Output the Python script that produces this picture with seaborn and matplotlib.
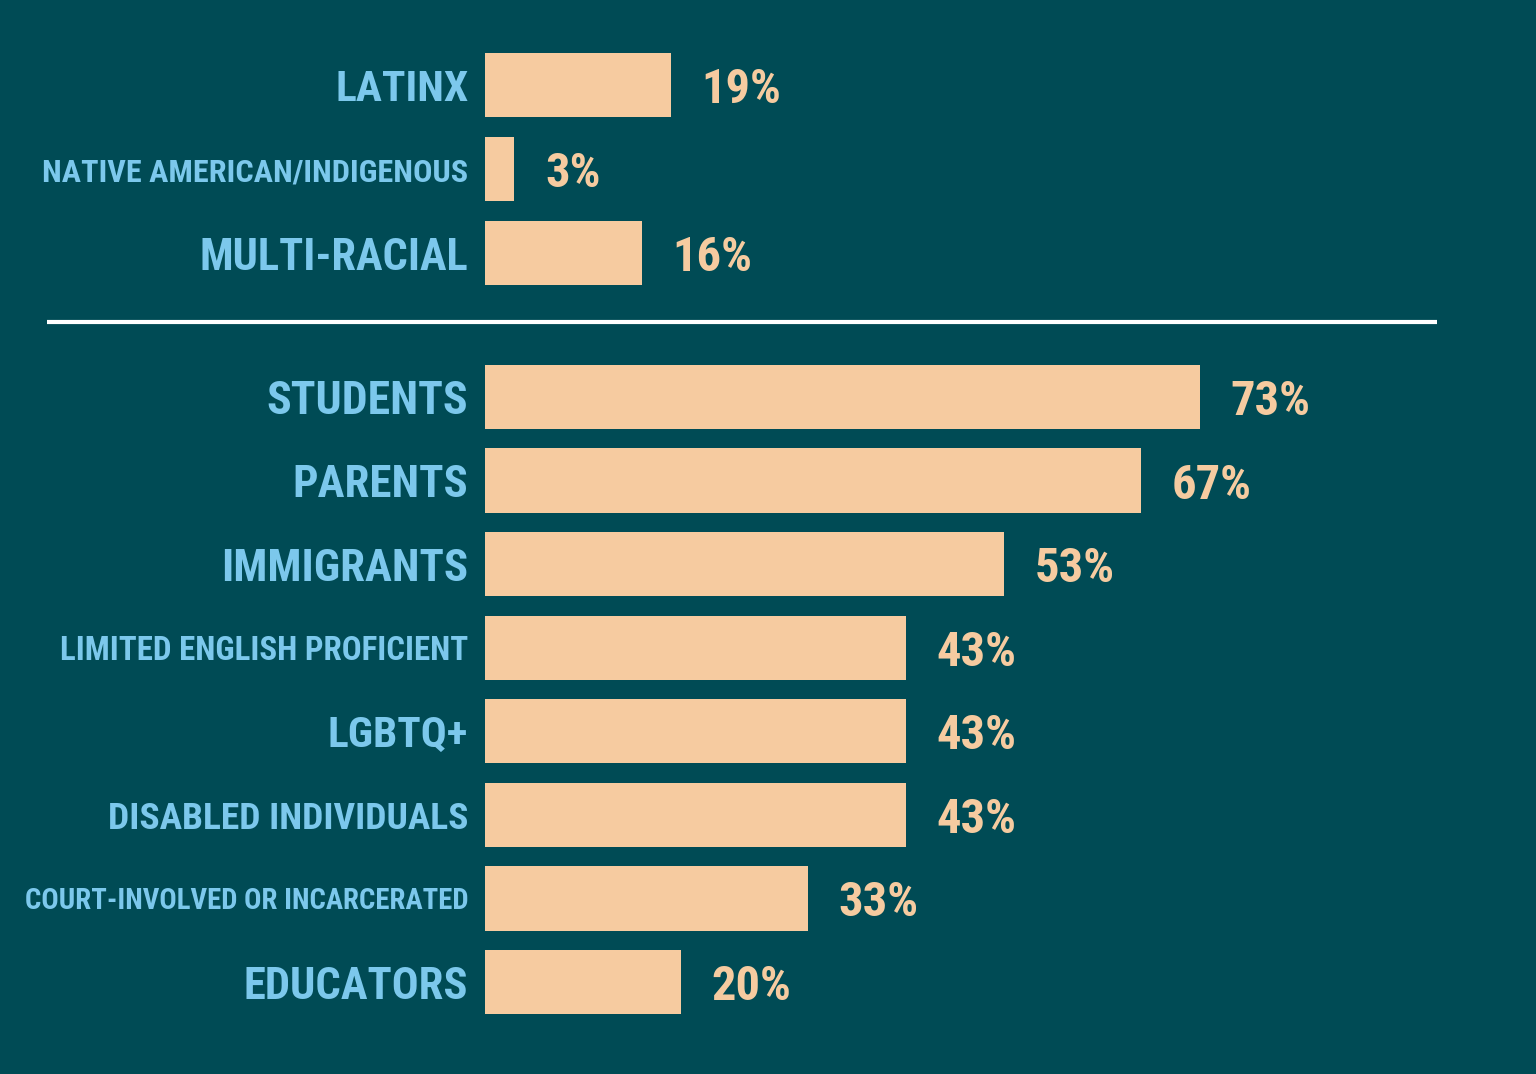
import matplotlib
matplotlib.use("Agg")
import matplotlib.pyplot as plt
from matplotlib.lines import Line2D
import seaborn as sns
import pandas as pd

# ---- data ----
race_categories = ["LATINX", "NATIVE AMERICAN/INDIGENOUS", "MULTI-RACIAL"]
race_values = [19, 3, 16]

group_categories = ["STUDENTS", "PARENTS", "IMMIGRANTS", "LIMITED ENGLISH PROFICIENT",
                    "LGBTQ+", "DISABLED INDIVIDUALS", "COURT-INVOLVED OR INCARCERATED",
                    "EDUCATORS"]
group_values = [73, 67, 53, 43, 43, 43, 33, 20]

# ---- style ----
BG = "#004B55"
BAR = "#F6CBA0"
LABEL = "#7CC8EC"
VALUE = "#F6CBA0"

sns.set_theme(style="white")
plt.rcParams["font.family"] = ["Roboto Condensed", "Liberation Sans Narrow", "DejaVu Sans"]
plt.rcParams["font.weight"] = "bold"
plt.rcParams["font.stretch"] = "condensed"

# target label widths in pixels (layout)
label_widths = {
    "LATINX": 133, "NATIVE AMERICAN/INDIGENOUS": 425, "MULTI-RACIAL": 268,
    "STUDENTS": 201, "PARENTS": 175, "IMMIGRANTS": 246,
    "LIMITED ENGLISH PROFICIENT": 406, "LGBTQ+": 140,
    "DISABLED INDIVIDUALS": 360, "COURT-INVOLVED OR INCARCERATED": 443,
    "EDUCATORS": 224,
}
VALUE_WIDTH = 80  # px width of a two-digit value label

W, H = 1536, 1074
fig = plt.figure(figsize=(W / 100, H / 100), dpi=100, facecolor=BG)

x_left = 485 / W
x_width = 979 / W
XMAX = 100

def make_axes(top_px, bottom_px):
    return fig.add_axes([x_left, 1 - bottom_px / H, x_width, (bottom_px - top_px) / H])

ax_top = make_axes(43, 295)
ax_bot = make_axes(355.2, 1023.8)

value_texts = []
for ax, cats, vals in [(ax_top, race_categories, race_values),
                       (ax_bot, group_categories, group_values)]:
    df = pd.DataFrame({"category": cats, "value": vals})
    sns.barplot(data=df, x="value", y="category", ax=ax, color=BAR,
                orient="h", width=0.77, saturation=1, edgecolor="none")
    ax.set_facecolor(BG)
    ax.set_xlim(0, XMAX)
    ax.set_xlabel("")
    ax.set_ylabel("")
    ax.set_xticks([])
    for s in ax.spines.values():
        s.set_visible(False)
    ax.tick_params(axis="y", length=0, pad=12)
    for t in ax.get_yticklabels():
        t.set_color(LABEL)
        t.set_fontweight("bold")
        t.set_fontstretch("condensed")
        t.set_fontsize(30)
        t.set_va("center_baseline")
    texts = ax.bar_label(ax.containers[0], labels=[f"{v}%" for v in vals],
                         padding=22, color=VALUE, fontsize=30,
                         fontweight="bold", fontstretch="condensed")
    for t in texts:
        t.set_va("center_baseline")
    value_texts += texts

# fit text sizes to the widths seen in the reference
fig.canvas.draw()
renderer = fig.canvas.get_renderer()
for ax in (ax_top, ax_bot):
    for t in ax.get_yticklabels():
        w = t.get_window_extent(renderer).width
        target = label_widths.get(t.get_text(), w)
        t.set_fontsize(30 * target / w)
ref = [t for t in value_texts if t.get_text() == "73%"][0]
vsize = 30 * VALUE_WIDTH / ref.get_window_extent(renderer).width
for t in value_texts:
    t.set_fontsize(vsize)

# separator line
fig.add_artist(Line2D([47 / W, 1437 / W], [1 - 322 / H, 1 - 322 / H],
                      color="white", lw=3, solid_capstyle="butt",
                      transform=fig.transFigure))

fig.savefig("out.png", dpi=100, facecolor=BG)
